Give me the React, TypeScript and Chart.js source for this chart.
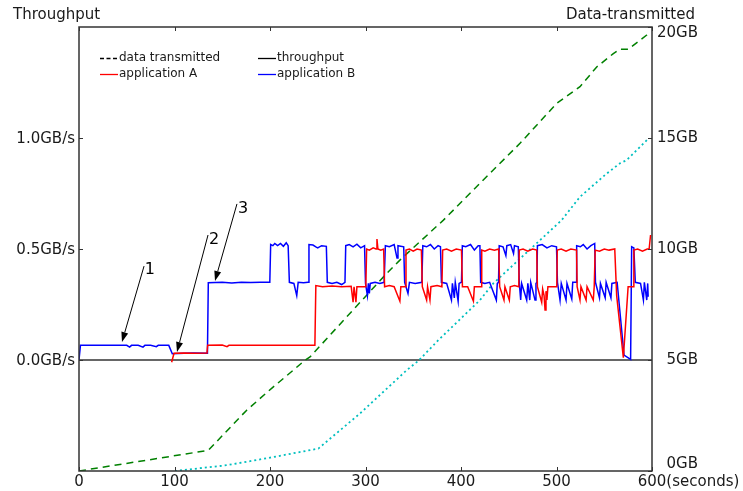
import React, { useEffect, useRef } from 'react';
import { Chart, registerables } from 'chart.js';

Chart.register(...registerables);

// ---------- axes / ticks ----------
const xTicks = [0, 100, 200, 300, 400, 500, 600];
const xTickLabels = ['0', '100', '200', '300', '400', '500', '600'];
const xUnitSuffix = '(seconds)';
const leftTicks = [0, 0.5, 1.0];
const leftTickLabels = ['0.0GB/s', '0.5GB/s', '1.0GB/s'];
const rightTicks = [0, 5, 10, 15, 20];
const rightTickLabels = ['0GB', '5GB', '10GB', '15GB', '20GB'];
const leftTitle = 'Throughput';
const rightTitle = 'Data-transmitted';

// ---------- series: [seconds, GB/s] ----------
const applicationB: [number, number][] = [
  [0, 0], [1.5, 0.066], [10, 0.067], [20, 0.066], [30, 0.066], [40, 0.067], [50, 0.066], [53, 0.058], [55, 0.066],
  [62, 0.066], [67, 0.058], [69, 0.066], [75, 0.066], [81, 0.06], [83, 0.066], [90, 0.066], [94, 0.066],
  [97.7, 0.028], [110, 0.03], [120, 0.031], [134.5, 0.03], [135.4, 0.348], [150, 0.35], [160, 0.347], [170, 0.35],
  [180, 0.349], [190, 0.35], [199.8, 0.35], [200.7, 0.52], [203, 0.515], [205, 0.525], [208, 0.515], [211, 0.525],
  [214, 0.512], [217, 0.528], [219, 0.515], [220.3, 0.35], [225, 0.345], [228, 0.29], [229.5, 0.35], [235, 0.348],
  [239.8, 0.35], [240.8, 0.52], [245, 0.518], [248, 0.51], [250, 0.505], [254, 0.515], [259, 0.512], [260, 0.35],
  [265, 0.345], [270, 0.35], [275, 0.34], [278.5, 0.35], [279.3, 0.515], [283, 0.52], [287, 0.51], [291, 0.522],
  [295, 0.505], [299, 0.515], [300, 0.345], [302, 0.29], [303, 0.345], [304, 0.3], [305, 0.345], [310, 0.35],
  [315, 0.345], [319.5, 0.35], [320.8, 0.515], [325, 0.51], [330, 0.52], [333, 0.46], [334, 0.515], [340, 0.51],
  [341, 0.35], [344.5, 0.3], [346, 0.35], [352, 0.345], [359, 0.35], [360, 0.515], [364, 0.51], [368, 0.52],
  [372, 0.5], [376, 0.515], [378.5, 0.51], [379.5, 0.35], [385, 0.345], [390, 0.27], [391, 0.345], [393, 0.28],
  [394, 0.35], [397, 0.265], [398, 0.345], [400.5, 0.35], [401.4, 0.515], [405, 0.51], [410, 0.52], [414, 0.495],
  [418, 0.515], [419.8, 0.515], [420.6, 0.35], [425, 0.345], [430, 0.35], [437, 0.27], [438, 0.345], [439.3, 0.35],
  [440, 0.515], [444, 0.51], [447, 0.47], [448, 0.515], [452, 0.52], [455, 0.48], [456, 0.515], [460, 0.51],
  [461, 0.35], [462.5, 0.27], [463.5, 0.345], [468.8, 0.27], [470, 0.345], [472, 0.27], [473, 0.35], [477.5, 0.27],
  [478.5, 0.345], [479.5, 0.35], [480, 0.515], [485, 0.52], [490, 0.505], [495, 0.515], [500, 0.51], [501, 0.35],
  [503.7, 0.27], [505, 0.345], [510, 0.27], [511, 0.345], [516, 0.275], [517, 0.35], [520.5, 0.35], [521.1, 0.515],
  [525, 0.51], [528, 0.52], [532, 0.5], [536, 0.515], [540, 0.525], [540.8, 0.35], [545, 0.28], [546, 0.345],
  [551, 0.28], [552, 0.35], [557, 0.28], [558, 0.345], [563.5, 0.35], [570.7, 0.022], [577.6, 0.003], [578.7, 0.51],
  [581, 0.505], [582.5, 0.35], [588, 0.345], [591, 0.27], [592, 0.35], [594.5, 0.27], [595.5, 0.345], [596, 0.285],
];

const applicationA: [number, number][] = [
  [97, -0.01], [99.5, 0.03], [110, 0.032], [120, 0.03], [134, 0.031], [134.7, 0.066], [150, 0.067], [155, 0.06],
  [157, 0.066], [170, 0.066], [190, 0.067], [210, 0.066], [230, 0.067], [247, 0.067], [248, 0.335], [255, 0.33],
  [265, 0.333], [275, 0.33], [285, 0.332], [287, 0.26], [288, 0.33], [290, 0.26], [291, 0.33], [300.3, 0.33],
  [301.2, 0.5], [304, 0.495], [308, 0.505], [311, 0.5], [312, 0.545], [313, 0.5], [316, 0.495], [319, 0.5],
  [320, 0.33], [325, 0.335], [330, 0.33], [336, 0.265], [337, 0.33], [341.5, 0.33], [342.4, 0.495], [346, 0.5],
  [350, 0.49], [354, 0.5], [358.5, 0.495], [359.5, 0.33], [364, 0.27], [365, 0.33], [367.5, 0.27], [368.5, 0.33],
  [375, 0.335], [380, 0.33], [380.8, 0.495], [385, 0.5], [390, 0.49], [395, 0.5], [400.5, 0.495], [401.5, 0.33],
  [407, 0.33], [413, 0.265], [414, 0.33], [421, 0.33], [421.7, 0.495], [425, 0.49], [430, 0.5], [435, 0.495],
  [439.5, 0.5], [440.5, 0.33], [445, 0.27], [446, 0.33], [450.6, 0.27], [451.6, 0.33], [456, 0.335], [460.5, 0.33],
  [461, 0.495], [465, 0.5], [470, 0.49], [475, 0.5], [479.3, 0.495], [480, 0.33], [484.5, 0.26], [485.5, 0.32],
  [487, 0.29], [488, 0.225], [489, 0.31], [490, 0.27], [491, 0.33], [495, 0.33], [500.3, 0.33], [500.8, 0.495],
  [505, 0.5], [510, 0.49], [515, 0.5], [521, 0.495], [521.6, 0.33], [524.6, 0.27], [525.6, 0.33], [531, 0.27],
  [532, 0.33], [538.5, 0.27], [539.5, 0.33], [540, 0.33], [540.5, 0.495], [545, 0.49], [550, 0.5], [555, 0.495],
  [561, 0.5], [563, 0.29], [570, 0.01], [575, 0.33], [580.4, 0.33], [581, 0.495], [585, 0.5], [590, 0.49],
  [595, 0.5], [597, 0.5], [598.5, 0.563],
];

// throughput zero reference line [seconds, GB/s]
const throughputLine: [number, number][] = [[0, 0], [600, 0]];

// ---------- data transmitted: [seconds, GB] ----------
const dataTransmitted: [number, number][] = [
  [0, 0], [135.4, 0.93], [175.6, 2.74], [203.5, 3.79], [224.4, 4.54], [236.6, 4.99], [241.9, 5.14], [301.2, 7.92],
  [322.2, 8.9], [336, 9.5], [381.6, 11.3], [419.9, 12.96], [461.8, 14.76], [500.2, 16.56], [524.6, 17.31],
  [542.1, 18.2], [559.5, 18.8], [566.5, 19.0], [575.3, 19.0], [594.5, 19.64], [596, 19.7],
];
const dataTransmittedB: [number, number][] = [
  [100.5, 0], [154.6, 0.26], [200, 0.6], [250.6, 1.01], [294.2, 2.59], [343.1, 4.54], [355.3, 4.96], [376.2, 5.89],
  [419.9, 7.7], [433.8, 8.45], [505.4, 11.3], [524.6, 12.35], [552.6, 13.4], [566.5, 13.86], [573.4, 14.0],
  [594.5, 14.9], [596, 14.98],
];

// ---------- legend + annotations ----------
const legendItems = [
  { label: 'data transmitted', color: '#000000', dash: [4, 2.5] },
  { label: 'throughput', color: '#000000', dash: [] as number[] },
  { label: 'application A', color: '#ff0000', dash: [] as number[] },
  { label: 'application B', color: '#0000ff', dash: [] as number[] },
];
// [label, labelX, labelY, fromX, fromY, toX, toY] in (seconds, GB/s)
const annotations: [string, number, number, number, number, number, number][] = [
  ['1', 74.3, 0.405, 68.1, 0.423, 45.0, 0.081],
  ['2', 141.4, 0.54, 135.1, 0.563, 102.6, 0.036],
  ['3', 171.7, 0.68, 165.4, 0.703, 142.4, 0.356],
];

const FONT = '"DejaVu Sans", "Liberation Sans", sans-serif';
const AXIS_COLOR = '#333333';

const toXY = (arr: [number, number][]) => arr.map(([x, y]) => ({ x, y }));

const decorPlugin = {
  id: 'decor',
  afterDraw(chart: any) {
    const { ctx, chartArea: a, scales } = chart;
    const sx = scales.x;
    const sy = scales.y;
    const sy2 = scales.y2;
    ctx.save();

    // frame
    ctx.strokeStyle = AXIS_COLOR;
    ctx.lineWidth = 1.5;
    ctx.setLineDash([]);
    ctx.strokeRect(a.left, a.top, a.right - a.left, a.bottom - a.top);

    // inward ticks
    ctx.lineWidth = 1;
    ctx.beginPath();
    xTicks.forEach((t) => {
      const px = Math.round(sx.getPixelForValue(t)) + 0.5;
      ctx.moveTo(px, a.bottom);
      ctx.lineTo(px, a.bottom - 4);
      ctx.moveTo(px, a.top);
      ctx.lineTo(px, a.top + 4);
    });
    leftTicks.forEach((t) => {
      const py = Math.round(sy.getPixelForValue(t)) + 0.5;
      ctx.moveTo(a.left, py);
      ctx.lineTo(a.left + 4, py);
    });
    rightTicks.forEach((t) => {
      const py = Math.round(sy2.getPixelForValue(t)) + 0.5;
      ctx.moveTo(a.right, py);
      ctx.lineTo(a.right - 4, py);
    });
    ctx.stroke();

    // tick labels
    ctx.fillStyle = '#1a1a1a';
    ctx.font = `15px ${FONT}`;
    ctx.textBaseline = 'middle';
    // x
    xTicks.forEach((t, i) => {
      const px = sx.getPixelForValue(t);
      const lbl = xTickLabels[i];
      if (i === xTicks.length - 1) {
        const w = ctx.measureText(lbl).width;
        ctx.textAlign = 'left';
        ctx.fillText(lbl + xUnitSuffix, px - w / 2, a.bottom + 11);
      } else {
        ctx.textAlign = 'center';
        ctx.fillText(lbl, px, a.bottom + 11);
      }
    });
    // left
    ctx.textAlign = 'right';
    leftTicks.forEach((t, i) => {
      ctx.fillText(leftTickLabels[i], a.left - 4, sy.getPixelForValue(t) + 1);
    });
    // right (clamped inside the axis extent)
    rightTicks.forEach((t, i) => {
      let py = sy2.getPixelForValue(t);
      py = Math.max(a.top + 6, Math.min(a.bottom - 7, py));
      ctx.fillText(rightTickLabels[i], a.right + 46, py);
    });

    // axis titles
    ctx.textAlign = 'left';
    ctx.fillText(leftTitle, 13, 15);
    ctx.textAlign = 'right';
    ctx.fillText(rightTitle, 695, 15);

    // legend
    ctx.font = `12px ${FONT}`;
    ctx.textAlign = 'left';
    const cols = [a.left + 21, a.left + 179];
    const rows = [a.top + 31, a.top + 47];
    legendItems.forEach((it, i) => {
      const x0 = cols[i % 2];
      const y0 = rows[Math.floor(i / 2)];
      ctx.strokeStyle = it.color;
      ctx.lineWidth = 1.3;
      ctx.setLineDash(it.dash);
      ctx.beginPath();
      ctx.moveTo(x0, y0 + 0.5);
      ctx.lineTo(x0 + 18, y0 + 0.5);
      ctx.stroke();
      ctx.setLineDash([]);
      ctx.fillStyle = '#1a1a1a';
      ctx.fillText(it.label, x0 + 19, y0);
    });

    // arrows with numbers
    ctx.strokeStyle = '#000';
    ctx.fillStyle = '#000';
    ctx.lineWidth = 1;
    ctx.font = `16px ${FONT}`;
    ctx.textAlign = 'center';
    annotations.forEach(([lbl, lx, ly, fx, fy, tx, ty]) => {
      const x1 = sx.getPixelForValue(fx);
      const y1 = sy.getPixelForValue(fy);
      const x2 = sx.getPixelForValue(tx);
      const y2 = sy.getPixelForValue(ty);
      const ang = Math.atan2(y2 - y1, x2 - x1);
      const hl = 10;
      const hw = 3.5;
      const bx = x2 - hl * Math.cos(ang);
      const by = y2 - hl * Math.sin(ang);
      ctx.beginPath();
      ctx.moveTo(x1, y1);
      ctx.lineTo(bx, by);
      ctx.stroke();
      ctx.beginPath();
      ctx.moveTo(x2, y2);
      ctx.lineTo(bx + hw * Math.sin(ang), by - hw * Math.cos(ang));
      ctx.lineTo(bx - hw * Math.sin(ang), by + hw * Math.cos(ang));
      ctx.closePath();
      ctx.fill();
      ctx.fillText(lbl, sx.getPixelForValue(lx), sy.getPixelForValue(ly));
    });

    ctx.restore();
  },
};

export default function App() {
  const canvasRef = useRef<HTMLCanvasElement | null>(null);

  useEffect(() => {
    if (!canvasRef.current) return;
    const line = {
      pointRadius: 0,
      pointHoverRadius: 0,
      tension: 0,
      fill: false,
    };
    const chart = new Chart(canvasRef.current, {
      type: 'line',
      data: {
        datasets: [
          { ...line, label: 'application A', data: toXY(applicationA), borderColor: '#ff0000', borderWidth: 1.5, yAxisID: 'y', order: 0 },
          { ...line, label: 'application B', data: toXY(applicationB), borderColor: '#0000ff', borderWidth: 1.5, yAxisID: 'y', order: 1 },
          { ...line, label: 'data transmitted', data: toXY(dataTransmitted), borderColor: '#008000', borderWidth: 1.5, borderDash: [7, 5], yAxisID: 'y2', order: 2 },
          { ...line, label: 'data transmitted B', data: toXY(dataTransmittedB), borderColor: '#00bfbf', borderWidth: 1.8, borderDash: [2, 3], yAxisID: 'y2', order: 3 },
          { ...line, label: 'throughput', data: toXY(throughputLine), borderColor: AXIS_COLOR, borderWidth: 1.5, yAxisID: 'y', order: 4 },
        ],
      },
      options: {
        responsive: false,
        animation: false,
        parsing: true,
        layout: { padding: { left: 79, right: 91, top: 27, bottom: 20 } },
        scales: {
          x: { type: 'linear', min: 0, max: 600, display: false },
          y: { type: 'linear', position: 'left', min: -0.5, max: 1.5, display: false },
          y2: { type: 'linear', position: 'right', min: 0, max: 20, display: false },
        },
        plugins: {
          legend: { display: false },
          tooltip: { enabled: false },
          title: { display: false },
        },
        events: [],
      },
      plugins: [decorPlugin],
    } as any);
    return () => chart.destroy();
  }, []);

  return (
    <div style={{ position: 'fixed', left: 0, top: 0, width: 743, height: 491, background: '#fff' }}>
      <canvas ref={canvasRef} width={743} height={491} />
    </div>
  );
}
